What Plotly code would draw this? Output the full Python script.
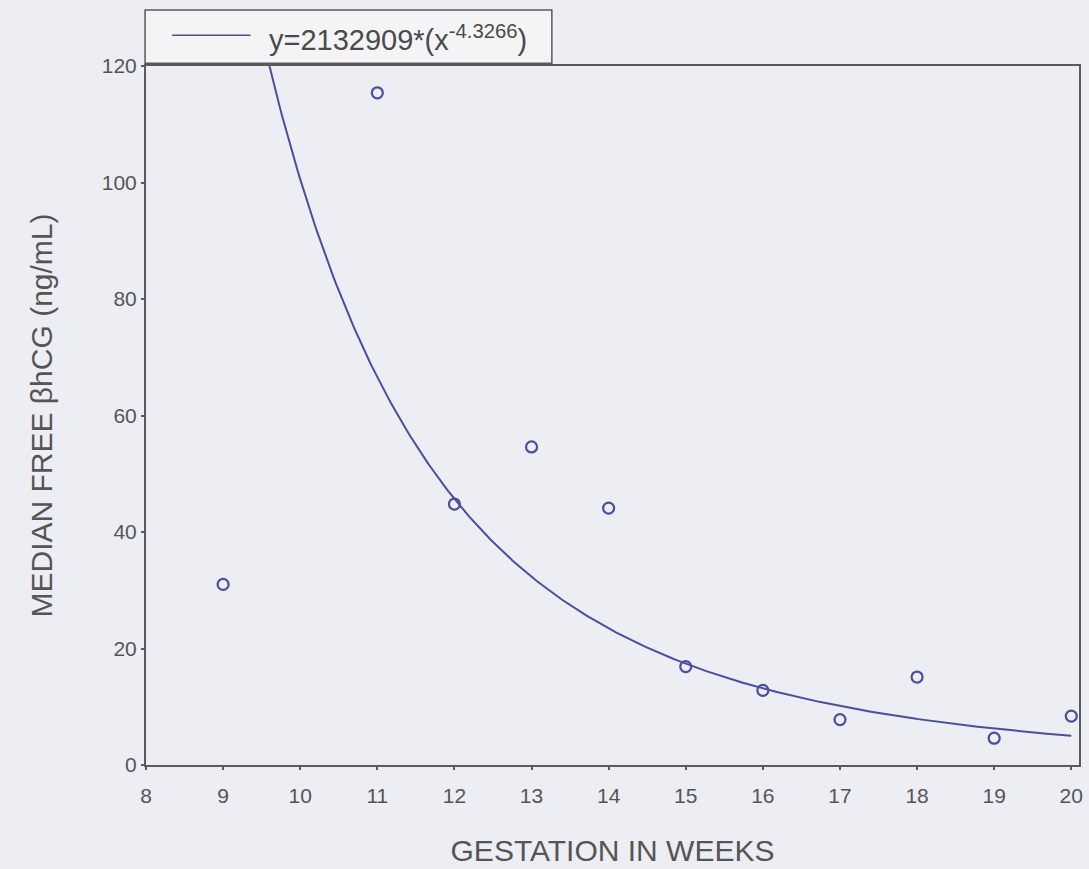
import numpy as np
import plotly.graph_objects as go

# Median free beta-hCG by gestational week
weeks = [9, 11, 12, 13, 14, 15, 16, 17, 18, 19, 20]
median_hcg = [31.0, 115.4, 44.8, 54.6, 44.1, 16.9, 12.8, 7.8, 15.1, 4.6, 8.4]

# Power-law fit y = a * x^b
fit_a = 2132909
fit_b = -4.3266

x_ticks = [8, 9, 10, 11, 12, 13, 14, 15, 16, 17, 18, 19, 20]
y_ticks = [0, 20, 40, 60, 80, 100, 120]

ink = "#4a4e9e"
axis_col = "#5a5a5a"
bg = "#ededf4"
font_family = "Liberation Sans, Arial, sans-serif"

fit_x = np.linspace(min(weeks), max(weeks), 400)
fit_y = fit_a * fit_x ** fit_b

fig = go.Figure()
fig.add_trace(go.Scatter(
    x=fit_x, y=fit_y, mode="lines",
    line=dict(color=ink, width=2),
    showlegend=False, hoverinfo="skip",
))
fig.add_trace(go.Scatter(
    x=weeks, y=median_hcg, mode="markers",
    marker=dict(symbol="circle-open", size=11, color=ink,
                line=dict(color=ink, width=2.2)),
    showlegend=False,
))

# Legend box with the fitted equation
fig.add_shape(type="rect", xref="paper", yref="paper",
              x0=-0.001, x1=0.435, y0=1.004, y1=1.080,
              line=dict(color="#5a5a5a", width=1.5), fillcolor="#f4f4f7",
              layer="above")
fig.add_shape(type="line", xref="paper", yref="paper",
              x0=0.028, x1=0.112, y0=1.044, y1=1.044,
              line=dict(color=ink, width=1.5))
fig.add_annotation(
    xref="paper", yref="paper", x=0.130, y=1.040,
    xanchor="left", yanchor="middle", showarrow=False,
    text=f"y={fit_a}*(x<sup>{fit_b}</sup>)",
    font=dict(family=font_family, size=29, color="#4a4a4a"),
)

axis_common = dict(
    showline=True, linecolor=axis_col, linewidth=2, mirror=True,
    ticks="outside", ticklen=3, tickwidth=1.5, tickcolor=axis_col,
    showgrid=False, zeroline=False, automargin=False,
    tickfont=dict(family=font_family, size=21, color="#555555"),
    title_font=dict(family=font_family, size=30, color="#555555"),
)

fig.update_xaxes(
    range=[8, 20.1], tickvals=x_ticks, ticklabelstandoff=8,
    title_text="GESTATION IN WEEKS", title_standoff=34,
    **axis_common,
)
fig.update_yaxes(
    range=[0, 120], tickvals=y_ticks,
    title_text="MEDIAN FREE \u03b2hCG (ng/mL)", title_standoff=40,
    **axis_common,
)

fig.update_layout(
    width=1089, height=869,
    margin=dict(l=146, r=10, t=66, b=104),
    paper_bgcolor=bg, plot_bgcolor=bg,
    showlegend=False,
)

fig.write_html("out.html")
